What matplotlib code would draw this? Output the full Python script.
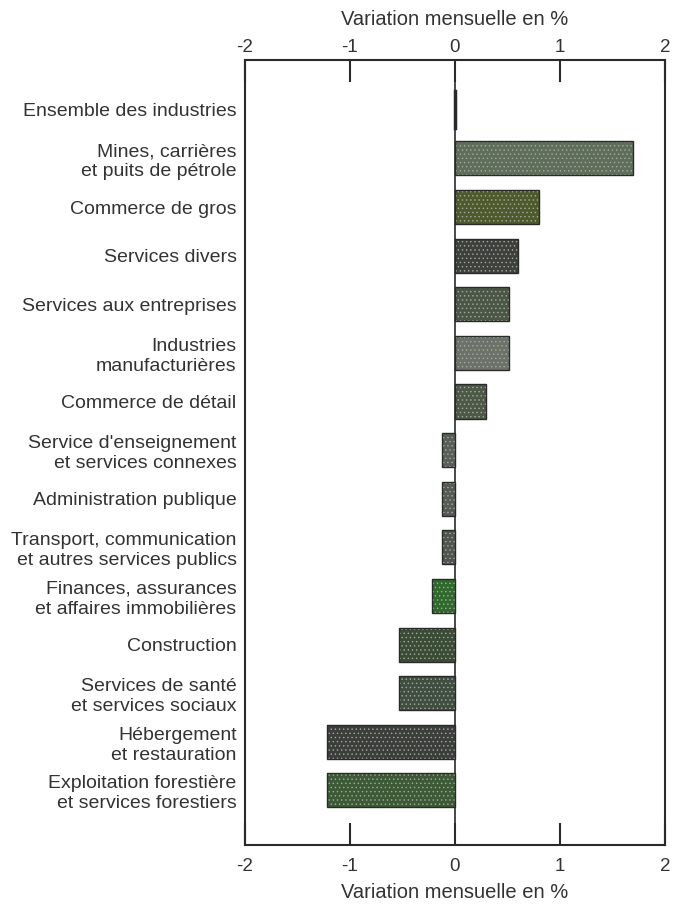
import matplotlib
matplotlib.use("Agg")
import matplotlib.pyplot as plt

categories = [
    "Ensemble des industries",
    "Mines, carrières\net puits de pétrole",
    "Commerce de gros",
    "Services divers",
    "Services aux entreprises",
    "Industries\nmanufacturières",
    "Commerce de détail",
    "Service d'enseignement\net services connexes",
    "Administration publique",
    "Transport, communication\net autres services publics",
    "Finances, assurances\net affaires immobilières",
    "Construction",
    "Services de santé\net services sociaux",
    "Hébergement\net restauration",
    "Exploitation forestière\net services forestiers",
]
values = [0.0, 1.7, 0.8, 0.6, 0.52, 0.52, 0.3, -0.12, -0.12, -0.12, -0.22, -0.53, -0.53, -1.22, -1.22]
bar_colors = ["#333333", "#5e6e5a", "#4f5a2c", "#3e403d", "#4a5646", "#6c726a", "#4c5947",
              "#5a5e58", "#555a55", "#50554f", "#2f6a2c", "#3a4b36", "#3f4e41", "#3c3e3c", "#3d5a37"]
xticks = [-2, -1, 0, 1, 2]
xlabel = "Variation mensuelle en %"

plt.rcParams['font.family'] = ['Liberation Sans', 'DejaVu Sans']
plt.rcParams['hatch.linewidth'] = 0.5

fig = plt.figure(figsize=(6.84, 9.06), dpi=100)
ax = fig.add_axes([0.358, 0.067, 0.614, 0.867])

pos = list(range(len(categories)))
ax.barh(pos, values, height=0.7, color=bar_colors, edgecolor="#a3aa9d",
        hatch="....", linewidth=0, zorder=2)
ax.barh(pos, values, height=0.7, facecolor="none", edgecolor="#2a2a2a",
        linewidth=1.0, zorder=3)
ax.plot([0, 0], [-0.38, 0.38], color="#2a2a2a", lw=2.5, zorder=4)
ax.axvline(0, color="#2a2a2a", lw=1.2, zorder=1)

ax.set_xlim(-2, 2)
ax.set_ylim(len(categories) - 1 + 1.13, -1.03)
ax.set_yticks(pos)
ax.set_yticklabels(categories, fontsize=14.0, color="#333333", linespacing=1.22)
ax.tick_params(axis="y", length=0, pad=6)
ax.set_xticks(xticks)
ax.set_xticklabels([str(t) for t in xticks])
ax.tick_params(axis="x", direction="in", length=16, width=1.5, color="#2a2a2a",
               labelsize=13.5, labelcolor="#333333", top=True, labeltop=False, pad=9)
ax.set_xlabel(xlabel, fontsize=14.5, color="#333333", labelpad=6)

ax2 = ax.secondary_xaxis("top")
ax2.set_xticks(xticks)
ax2.set_xticklabels([str(t) for t in xticks])
ax2.tick_params(axis="x", length=0, pad=3, labelsize=13.5, labelcolor="#333333")
ax2.set_xlabel(xlabel, fontsize=14.5, color="#333333", labelpad=10)
ax2.spines["top"].set_visible(False)
for s in ax.spines.values():
    s.set_linewidth(1.5)
    s.set_color("#2a2a2a")

fig.savefig("out.png", dpi=100, facecolor="white")
